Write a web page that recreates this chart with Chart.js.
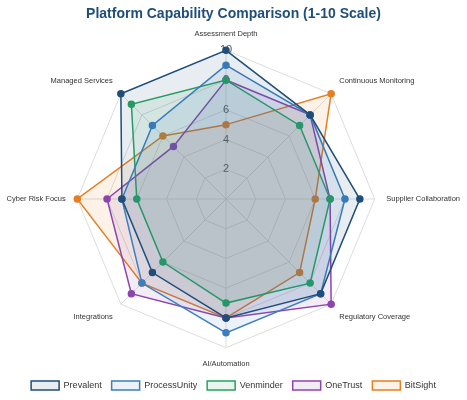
<!DOCTYPE html>
<html><head><meta charset="utf-8">
<script src="https://cdn.jsdelivr.net/npm/chart.js@4/dist/chart.umd.min.js"></script>
<style>html,body{margin:0;padding:0;background:#fff}#w{width:467px;height:400px}</style>
</head><body><div id="w"><canvas id="c"></canvas></div>
<script>
const categories = ["Assessment Depth","Continuous Monitoring","Supplier Collaboration","Regulatory Coverage","AI/Automation","Integrations","Cyber Risk Focus","Managed Services"];
const prevalent    = [10, 8, 9, 9, 8, 7, 7, 10];
const processUnity = [9, 8, 8, 9, 9, 8, 7, 7];
const venminder    = [8, 7, 7, 8, 7, 6, 6, 9];
const oneTrust     = [8, 8, 7, 10, 8, 9, 8, 5];
const bitSight     = [5, 10, 6, 7, 8, 8, 10, 6];
const names = ["Prevalent","ProcessUnity","Venminder","OneTrust","BitSight"];
const colors = ["#1f4e79","#3b7fc0","#27a35f","#8e44ad","#e67e22"];
const fills = ["rgba(31,78,121,0.1)","rgba(59,127,192,0.1)","rgba(39,163,95,0.1)","rgba(142,68,173,0.1)","rgba(230,126,34,0.1)"];
const series = [prevalent, processUnity, venminder, oneTrust, bitSight];
new Chart(document.getElementById('c'), {
  type: 'radar',
  data: { labels: categories, datasets: series.map((d,i)=>({
    label: names[i], data: d, borderColor: colors[i], backgroundColor: fills[i],
    borderWidth: 1.5, pointRadius: 3, pointBackgroundColor: colors[i], pointBorderColor: colors[i]
  }))},
  options: {
    responsive: true, maintainAspectRatio: false, animation: false,
    layout: { padding: { top: 0, bottom: 0, left: 0, right: 0 } },
    plugins: {
      title: { display: true, text: 'Platform Capability Comparison (1-10 Scale)', color: '#1f4e79',
        font: { family: 'Liberation Sans, Arial', size: 14, weight: 'bold' }, padding: { top: 6, bottom: 6 } },
      legend: { position: 'bottom', labels: { boxWidth: 28, boxHeight: 9, padding: 10, font: { family: 'Liberation Sans, Arial', size: 9 }, color: '#333' } }
    },
    scales: { r: {
      min: 0, max: 10, ticks: { stepSize: 2, showLabelBackdrop: false, color: '#555', font: { size: 11 } },
      grid: { color: '#ddd' }, angleLines: { color: '#ddd' },
      pointLabels: { padding: 4, font: { family: 'Liberation Sans, Arial', size: 7.5 }, color: '#333' }
    }}
  }
});
</script></body></html>
